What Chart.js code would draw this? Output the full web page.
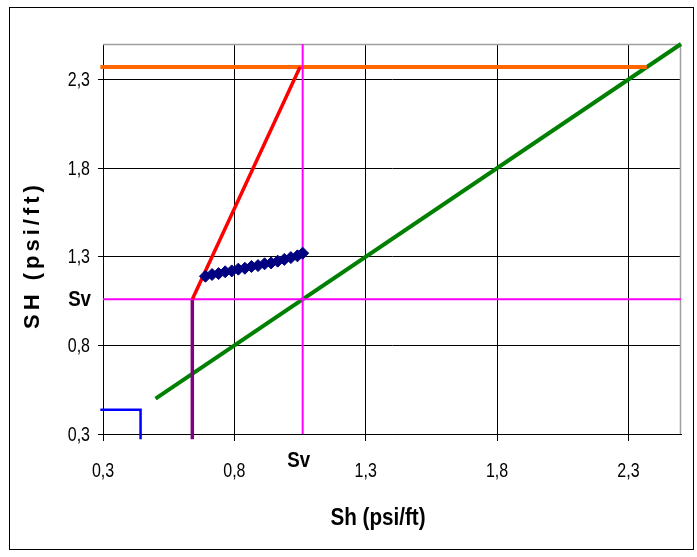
<!DOCTYPE html>
<html><head><meta charset="utf-8">
<script src="https://cdn.jsdelivr.net/npm/chart.js@4.4.1/dist/chart.umd.min.js"></script>
<style>html,body{margin:0;padding:0;background:#fff}canvas{display:block}</style>
</head><body>
<canvas id="c" width="697" height="557"></canvas>
<script>
// ---- data ----
const TICKS = [0.3, 0.8, 1.3, 1.8, 2.3];
const AXIS_MIN = 0.3, AXIS_MAX = 2.5;
const SV = 1.06;
const X_TITLE = 'Sh (psi/ft)';
const Y_TITLE = 'SH (psi/ft)';
const SV_LABEL = 'Sv';

const orangeX = [0.29, 2.37], orangeY = [2.37, 2.37];
const redX = [0.64, 1.05], redY = [1.06, 2.37];
const purpleX = [0.64, 0.64], purpleY = [1.06, 0.27];
const blueX = [0.29, 0.443, 0.443], blueY = [0.437, 0.437, 0.27];
const greenX = [0.5, 2.5], greenY = [0.5, 2.5];
const svHX = [0.3, 2.5], svHY = [SV, SV];
const svVX = [SV, SV], svVY = [0.3, 2.5];
const dataX = [0.69, 0.715, 0.74, 0.765, 0.79, 0.815, 0.84, 0.865, 0.89, 0.915, 0.94, 0.965, 0.99, 1.015, 1.04, 1.06];
const dataY = [1.19, 1.20, 1.205, 1.215, 1.22, 1.23, 1.235, 1.245, 1.25, 1.26, 1.265, 1.275, 1.285, 1.295, 1.305, 1.32];

const pts = (xs, ys) => xs.map((x, i) => ({x, y: ys[i]}));
const FONT = "'Liberation Sans', Arial, sans-serif";
const fmt = v => String(v).replace('.', ',');

function lineDs(xs, ys, color, w) {
  return {data: pts(xs, ys), showLine: true, borderColor: color, backgroundColor: color,
    borderWidth: w, pointRadius: 0, clip: false, tension: 0};
}

// draw horizontally compressed (narrow) text
function ntext(c, txt, x, y, size, bold, sx, align, spacing) {
  c.save();
  c.translate(x, y);
  c.scale(sx, 1);
  c.font = (bold ? 'bold ' : '') + size + 'px ' + FONT;
  c.textAlign = align;
  c.textBaseline = 'middle';
  if (spacing) c.letterSpacing = spacing;
  c.fillStyle = '#000';
  c.fillText(txt, 0, 0);
  c.restore();
}

const decor = {
  id: 'decor',
  beforeDraw(chart) {
    const c = chart.ctx;
    c.save(); c.fillStyle = '#fff'; c.fillRect(0, 0, chart.width, chart.height); c.restore();
  },
  beforeDatasetsDraw(chart) {
    const c = chart.ctx, a = chart.chartArea;
    c.save();
    c.strokeStyle = '#a0a0a0'; c.lineWidth = 1.5;
    c.beginPath(); c.moveTo(a.left, a.top + 0.5); c.lineTo(a.right - 0.5, a.top + 0.5); c.lineTo(a.right - 0.5, a.bottom); c.stroke();
    c.restore();
  },
  afterDraw(chart) {
    const c = chart.ctx, xs = chart.scales.x, ys = chart.scales.y;
    c.save();
    c.strokeStyle = '#000'; c.lineWidth = 1;
    c.strokeRect(9.5, 7.5, 684, 542);
    c.restore();
    // tick labels
    TICKS.forEach(v => {
      ntext(c, fmt(v), xs.getPixelForValue(v), 471, 20, false, 0.8, 'center');
      ntext(c, fmt(v), 90, ys.getPixelForValue(v) + 1, 20, false, 0.8, 'right');
    });
    // Sv labels
    ntext(c, SV_LABEL, 91, ys.getPixelForValue(SV) + 1, 22, true, 0.85, 'right');
    ntext(c, SV_LABEL, xs.getPixelForValue(SV) - 4, 461, 22, true, 0.85, 'center');
    // axis titles
    ntext(c, X_TITLE, 378, 518, 24, true, 0.86, 'center');
    c.save();
    c.translate(33, 255);
    c.rotate(-Math.PI / 2);
    ntext(c, Y_TITLE, 0, 0, 22, true, 1, 'center', '4px');
    c.restore();
  }
};

const tickSet = s => { s.ticks = TICKS.map(v => ({value: v})); };

new Chart(document.getElementById('c'), {
  type: 'scatter',
  data: {datasets: [
    {data: pts(dataX, dataY), showLine: true, borderColor: '#000080', backgroundColor: '#000080',
      borderWidth: 4, pointStyle: 'rectRot', pointRadius: 6, pointBorderWidth: 1, clip: false},
    lineDs(redX, redY, '#ff0000', 3.5),
    lineDs(svVX, svVY, '#ff00ff', 2),
    lineDs(orangeX, orangeY, '#ff6600', 4),
    lineDs(svHX, svHY, '#ff00ff', 2),
    lineDs(purpleX, purpleY, '#800080', 3.5),
    lineDs(greenX, greenY, '#008000', 4),
    lineDs(blueX, blueY, '#0000ff', 2.5)
  ]},
  options: {
    responsive: false, animation: false,
    layout: {padding: {left: 0, top: 44, right: 16, bottom: 0}},
    plugins: {legend: {display: false}, tooltip: {enabled: false}},
    scales: {
      x: {type: 'linear', min: AXIS_MIN, max: AXIS_MAX,
        afterBuildTicks: tickSet,
        afterFit: s => { s.height = 123; },
        grid: {color: '#000', lineWidth: 1, drawTicks: true, tickLength: 7, tickColor: '#000'},
        border: {color: '#000', width: 1},
        ticks: {display: false}
      },
      y: {type: 'linear', min: AXIS_MIN, max: AXIS_MAX,
        afterBuildTicks: tickSet,
        afterFit: s => { s.width = 103; },
        grid: {color: '#000', lineWidth: 1, drawTicks: true, tickLength: 5, tickColor: '#000'},
        border: {color: '#000', width: 1},
        ticks: {display: false}
      }
    }
  },
  plugins: [decor]
});
</script>
</body></html>
